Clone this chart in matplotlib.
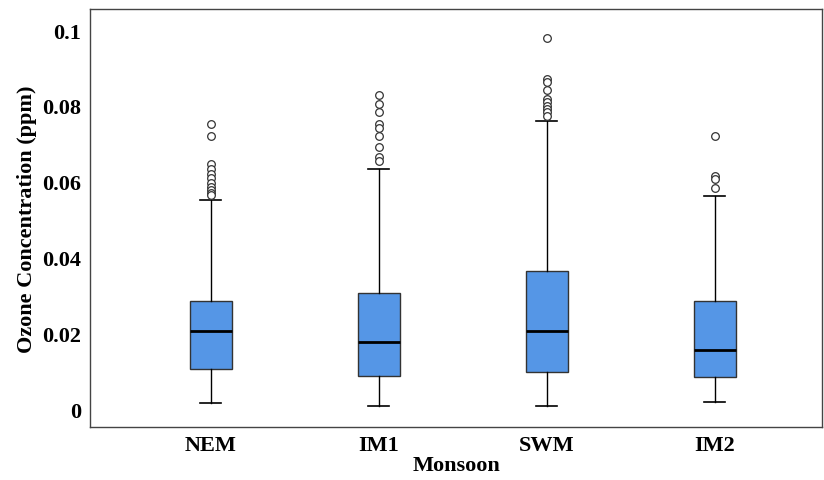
import matplotlib.pyplot as plt

seasons = ['NEM', 'IM1', 'SWM', 'IM2']
q1 = [0.0108, 0.0089, 0.0100, 0.0087]
median = [0.0208, 0.0179, 0.0208, 0.0158]
q3 = [0.0287, 0.0308, 0.0366, 0.0287]
whisker_low = [0.0018, 0.0010, 0.0010, 0.0021]
whisker_high = [0.0553, 0.0634, 0.0761, 0.0563]
outliers = [
    [0.0753, 0.0722, 0.0647, 0.0635, 0.0620, 0.0610, 0.0598, 0.0588, 0.0580, 0.0572, 0.0565],
    [0.0830, 0.0805, 0.0784, 0.0752, 0.0742, 0.0722, 0.0692, 0.0665, 0.0655],
    [0.0980, 0.0871, 0.0863, 0.0842, 0.0818, 0.0810, 0.0800, 0.0792, 0.0784, 0.0774],
    [0.0722, 0.0616, 0.0608, 0.0584],
]

plt.rcParams['font.family'] = 'Liberation Serif'
plt.rcParams['font.weight'] = 'bold'

stats = []
for i, name in enumerate(seasons):
    stats.append({'label': name, 'q1': q1[i], 'med': median[i], 'q3': q3[i],
                  'whislo': whisker_low[i], 'whishi': whisker_high[i],
                  'fliers': outliers[i]})

fig = plt.figure(figsize=(8.24, 4.81), dpi=100)
ax = fig.add_axes([0.109, 0.110, 0.889, 0.869])

ax.bxp(stats, positions=[1, 2, 3, 4], widths=0.25, patch_artist=True,
       boxprops=dict(facecolor='#5596e6', edgecolor='#333333', linewidth=1),
       medianprops=dict(color='black', linewidth=2),
       whiskerprops=dict(color='black', linewidth=1),
       capprops=dict(color='black', linewidth=1.2),
       flierprops=dict(marker='o', markerfacecolor='white', markeredgecolor='#333333',
                       markersize=5.5, markeredgewidth=0.9))

ax.set_xlim(0.28, 4.64)
ax.set_ylim(-0.0045, 0.1055)
ax.set_yticks([0, 0.02, 0.04, 0.06, 0.08, 0.1])
ax.set_yticklabels(['0', '0.02', '0.04', '0.06', '0.08', '0.1'])
ax.tick_params(length=0, labelsize=16, pad=6)
ax.set_xlabel('Monsoon', fontsize=16, fontweight='bold', labelpad=0)
ax.set_ylabel('Ozone Concentration (ppm)', fontsize=16, fontweight='bold', labelpad=4)
for s in ax.spines.values():
    s.set_color('#444444')
    s.set_linewidth(1)

fig.savefig('out.png', dpi=100)
